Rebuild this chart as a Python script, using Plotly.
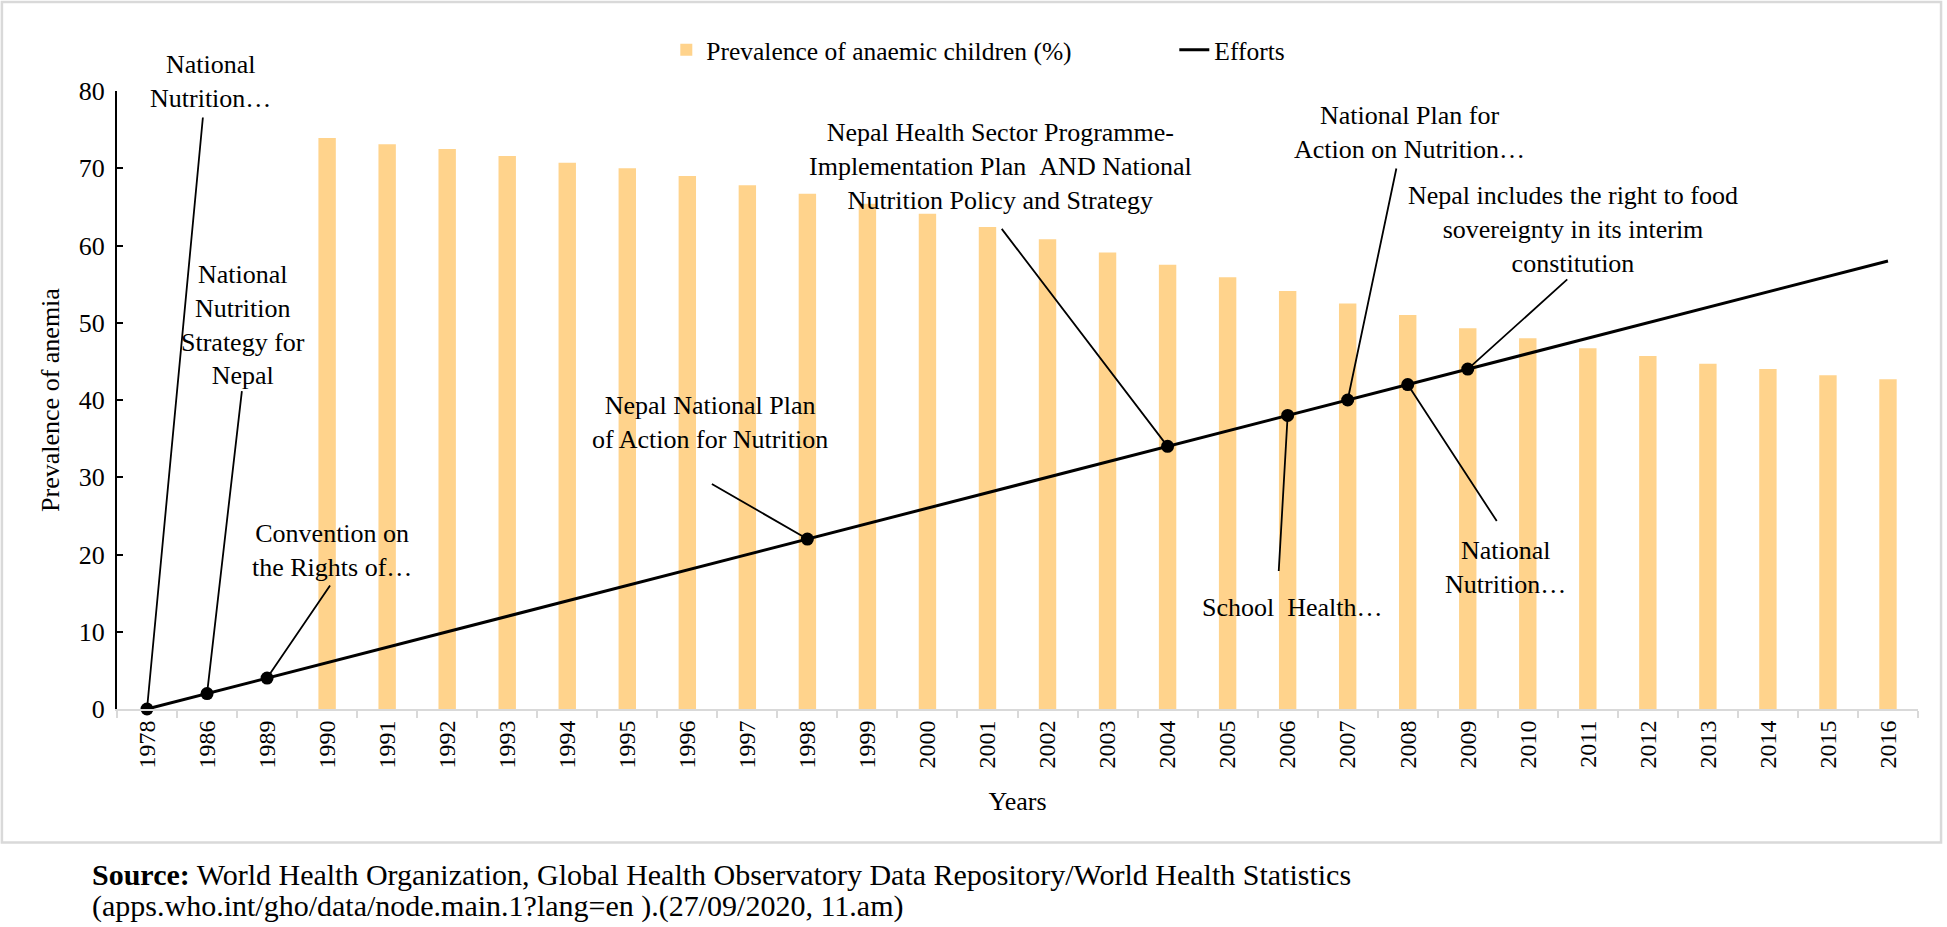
import plotly.graph_objects as go

years = ["1978", "1986", "1989", "1990", "1991", "1992", "1993", "1994", "1995", "1996",
         "1997", "1998", "1999", "2000", "2001", "2002", "2003", "2004", "2005", "2006",
         "2007", "2008", "2009", "2010", "2011", "2012", "2013", "2014", "2015", "2016"]
prevalence = [None, None, None, 73.9, 73.1, 72.5, 71.6, 70.7, 70.0, 69.0,
              67.8, 66.7, 65.4, 64.1, 62.4, 60.8, 59.1, 57.5, 55.9, 54.1,
              52.5, 51.0, 49.3, 48.0, 46.7, 45.7, 44.7, 44.0, 43.2, 42.7]
efforts = [0, 2, 4, 6, 8, 10, 12, 14, 16, 18,
           20, 22, 24, 26, 28, 30, 32, 34, 36, 38,
           40, 42, 44, 46, 48, 50, 52, 54, 56, 58]
event_years = ["1978", "1986", "1989", "1998", "2004", "2006", "2007", "2008", "2009"]
event_labels = [
    "National<br>Nutrition…",
    "National<br>Nutrition<br>Strategy for<br>Nepal",
    "Convention on<br>the Rights of…",
    "Nepal National Plan<br>of Action for Nutrition",
    "Nepal Health Sector Programme-<br>Implementation Plan &nbsp;AND National<br>Nutrition Policy and Strategy",
    "School &nbsp;Health…",
    "National Plan for<br>Action on Nutrition…",
    "National<br>Nutrition…",
    "Nepal includes the right to food<br>sovereignty in its interim<br>constitution",
]
source_lines = [
    "<b>Source:</b> World Health Organization, Global Health Observatory Data Repository/World Health Statistics",
    "(apps.who.int/gho/data/node.main.1?lang=en ).(27/09/2020, 11.am)",
]
# label placement (pixel offsets from the event point): text centre, leader-line end
label_offsets = [(63, -628), (36, -369), (65, -128), (-97, -117), (-167, -280),
                 (5, 192), (62, -268), (98, 183), (105, -140)]
leader_offsets = [(56, -593), (35, -304), (64, -94), (-97, -56), (-167, -219),
                  (-9, 157), (49, -233), (90, 138), (101, -91)]

FONT = "Liberation Serif, Times New Roman, serif"
event_idx = [years.index(y) for y in event_years]
event_values = [efforts[i] for i in event_idx]

fig = go.Figure()
fig.add_trace(go.Bar(x=years, y=prevalence, name="Prevalence of anaemic children (%)",
                     marker=dict(color="#FFD38C", line=dict(width=0)), width=0.29))
fig.add_trace(go.Scatter(x=years, y=efforts, name="Efforts", mode="lines",
                         line=dict(color="black", width=3), cliponaxis=False))
fig.add_trace(go.Scatter(x=event_years, y=event_values, mode="markers", showlegend=False,
                         marker=dict(color="black", size=13), cliponaxis=False))

annotations = []
for i, val, lab, (tx, ty), (lx, ly) in zip(event_idx, event_values, event_labels,
                                           label_offsets, leader_offsets):
    annotations.append(dict(x=i, y=val, xref="x", yref="y", text="", showarrow=True,
                            arrowhead=0, arrowwidth=1.8, arrowcolor="black",
                            ax=lx, ay=ly, standoff=0))
    annotations.append(dict(x=i, y=val, xref="x", yref="y", text=lab, showarrow=False,
                            xshift=tx, yshift=-ty, xanchor="center", yanchor="middle",
                            font=dict(family=FONT, size=26, color="black")))

for line, ypos in zip(source_lines, [-0.268, -0.318]):
    annotations.append(dict(
        xref="paper", yref="paper", x=-0.015, y=ypos, xanchor="left", yanchor="middle",
        align="left", showarrow=False, text=line,
        font=dict(family=FONT, size=30, color="black")))

fig.update_layout(
    width=1947, height=927,
    margin=dict(l=117, r=29, t=91, b=218),
    paper_bgcolor="white", plot_bgcolor="white",
    font=dict(family=FONT, size=26, color="black"),
    showlegend=True,
    legend=dict(orientation="h", x=0.305, xanchor="left", y=1.066, yanchor="middle",
                font=dict(family=FONT, size=25.5, color="black"),
                entrywidth=463, entrywidthmode="pixels", bgcolor="rgba(0,0,0,0)"),
    xaxis=dict(type="category", range=[-0.5, len(years) - 0.5], showline=True,
               linecolor="#d9d9d9", linewidth=2,
               ticks="outside", tickcolor="#d9d9d9", ticklen=7, tickwidth=2,
               tickson="boundaries", tickangle=-90, showgrid=False,
               tickfont=dict(family=FONT, size=24, color="black"),
               title=dict(text="Years", font=dict(family=FONT, size=26), standoff=24)),
    yaxis=dict(range=[0, 80], dtick=10, showline=True, linecolor="black", linewidth=2,
               ticks="inside", tickcolor="black", ticklen=6, tickwidth=2,
               showgrid=False, zeroline=False, ticklabelstandoff=5,
               tickfont=dict(family=FONT, size=26, color="black"),
               title=dict(text="Prevalence of anemia", font=dict(family=FONT, size=26), standoff=12)),
    annotations=annotations,
    shapes=[dict(type="rect", xref="paper", yref="paper", x0=-0.0639, x1=1.0128,
                 y0=-0.216, y1=1.144, line=dict(color="#d9d9d9", width=2.5),
                 fillcolor="rgba(0,0,0,0)", layer="below")],
)

fig.write_html("out.html", config={"displayModeBar": False},
               post_script="document.body.style.margin='0';document.body.style.overflow='hidden';")
